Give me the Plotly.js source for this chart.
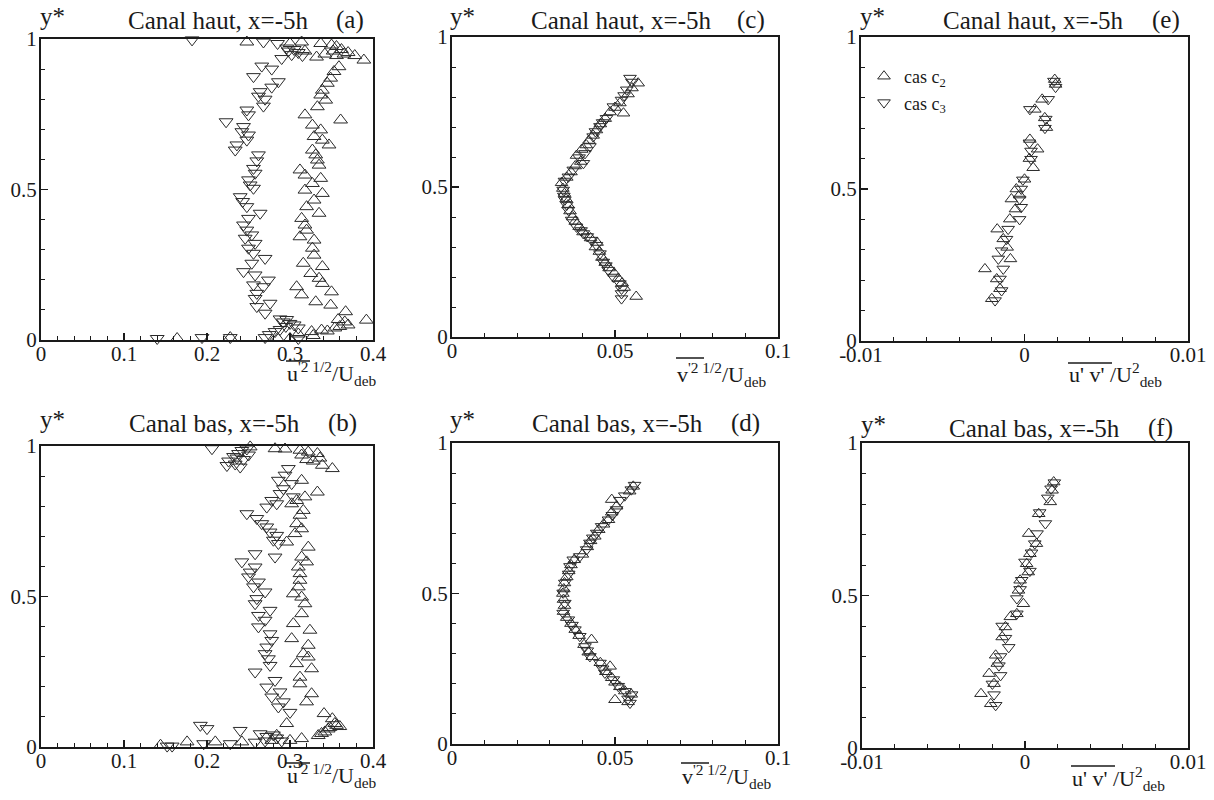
<!DOCTYPE html>
<html>
<head>
<meta charset="utf-8">
<script src="https://cdn.plot.ly/plotly-3.0.1.min.js"></script>
<style>html,body{margin:0;padding:0;background:#fff;}#chart{width:1214px;height:800px;}</style>
</head>
<body>
<div id="chart"></div>
<script>
// ---------------- DATA ----------------
// Each series: [x, y] pairs.  c2 = upward triangles, c3 = downward triangles.
var seriesNames = ['cas c<sub>2</sub>', 'cas c<sub>3</sub>'];

// (a) Canal haut, u'^2 1/2 / U_deb
var panelA_c2 = [[0.248,0.99],[0.314,0.99],[0.337,0.985],[0.35,0.98],[0.356,0.975],[0.362,0.965],[0.37,0.955],[0.378,0.945],[0.389,0.93],[0.332,0.94],[0.342,0.95],[0.352,0.96],[0.356,0.945],[0.365,0.95],[0.30,0.985],[0.318,0.96],
[0.359,0.908],[0.353,0.892],[0.349,0.87],[0.345,0.853],[0.339,0.83],[0.337,0.814],[0.343,0.797],[0.333,0.775],[0.318,0.748],[0.361,0.731],[0.327,0.714],[0.337,0.698],[0.329,0.676],[0.339,0.664],[0.347,0.648],[0.327,0.631],[0.331,0.615],[0.333,0.598],[0.335,0.581],[0.312,0.565],[0.318,0.548],[0.337,0.537],[0.327,0.52],[0.318,0.498],[0.339,0.487],[0.329,0.465],[0.32,0.443],[0.335,0.421],[0.314,0.404],[0.318,0.382],[0.32,0.365],[0.312,0.343],[0.329,0.332],[0.327,0.305],[0.329,0.282],[0.316,0.255],[0.339,0.244],[0.325,0.221],[0.335,0.205],[0.339,0.188],[0.308,0.177],[0.314,0.15],[0.35,0.16],[0.331,0.127],[0.349,0.116],[0.367,0.094],
[0.358,0.068],[0.366,0.06],[0.37,0.05],[0.36,0.045],[0.354,0.04],[0.392,0.066],[0.338,0.033],[0.326,0.028],[0.31,0.02],[0.328,0.015],[0.345,0.03],
[0.164,0.005],[0.228,0.008],[0.285,0.005],[0.3,0.005]];
var panelA_c3 = [[0.182,0.997],[0.268,0.99],[0.285,0.985],[0.296,0.97],[0.305,0.965],[0.31,0.955],[0.302,0.948],[0.315,0.945],[0.29,0.935],[0.298,0.96],
[0.266,0.91],[0.278,0.90],[0.256,0.875],[0.286,0.858],[0.278,0.84],[0.264,0.825],[0.262,0.81],[0.27,0.80],[0.268,0.777],[0.248,0.764],[0.25,0.748],[0.223,0.725],[0.244,0.709],[0.242,0.692],[0.25,0.681],[0.248,0.664],[0.236,0.648],[0.234,0.631],[0.262,0.615],[0.26,0.595],[0.256,0.570],[0.258,0.554],[0.25,0.532],[0.252,0.515],[0.256,0.504],[0.24,0.476],[0.243,0.46],[0.248,0.443],[0.264,0.421],[0.25,0.404],[0.244,0.382],[0.248,0.365],[0.254,0.349],[0.246,0.338],[0.258,0.321],[0.25,0.305],[0.256,0.288],[0.27,0.271],[0.254,0.255],[0.244,0.227],[0.258,0.216],[0.274,0.199],[0.256,0.183],[0.268,0.177],[0.26,0.155],[0.258,0.138],[0.276,0.122],[0.26,0.111],[0.27,0.089],
[0.288,0.07],[0.296,0.068],[0.3,0.055],[0.295,0.045],[0.305,0.05],[0.288,0.035],[0.282,0.028],[0.275,0.018],[0.292,0.06],[0.31,0.04],
[0.14,0.005],[0.194,0.008],[0.228,0.008],[0.27,0.008],[0.31,0.005]];

// (b) Canal bas, u'^2 1/2 / U_deb
var panelB_c2 = [[0.252,0.997],[0.282,0.991],[0.294,0.99],[0.312,0.986],[0.322,0.98],[0.333,0.975],[0.32,0.955],[0.328,0.95],[0.339,0.936],[0.351,0.925],[0.336,0.96],[0.314,0.97],
[0.314,0.886],[0.333,0.847],[0.318,0.831],[0.308,0.819],[0.302,0.808],[0.316,0.786],[0.312,0.77],[0.308,0.742],[0.314,0.725],[0.306,0.709],[0.296,0.681],[0.322,0.664],[0.314,0.631],[0.32,0.615],[0.31,0.598],[0.312,0.576],[0.312,0.554],[0.31,0.532],[0.304,0.509],[0.314,0.498],[0.318,0.476],[0.314,0.443],[0.304,0.41],[0.324,0.388],[0.302,0.36],[0.322,0.338],[0.316,0.31],[0.322,0.299],[0.308,0.277],[0.326,0.26],[0.312,0.232],[0.312,0.21],[0.326,0.177],[0.32,0.15],[0.341,0.111],[0.351,0.094],
[0.346,0.06],[0.338,0.045],[0.354,0.078],[0.356,0.072],[0.36,0.068],[0.348,0.065],[0.342,0.05],[0.334,0.038],[0.296,0.078],[0.284,0.039],[0.278,0.022],
[0.144,0.006],[0.176,0.017],[0.21,0.017],[0.242,0.017],[0.3,0.022],[0.314,0.028]];
var panelB_c3 = [[0.206,0.991],[0.226,0.95],[0.232,0.965],[0.238,0.975],[0.242,0.985],[0.248,0.99],[0.234,0.94],[0.24,0.93],[0.224,0.935],[0.244,0.955],[0.25,0.97],[0.236,0.96],
[0.298,0.925],[0.294,0.903],[0.286,0.886],[0.302,0.875],[0.292,0.858],[0.288,0.842],[0.304,0.831],[0.278,0.819],[0.284,0.808],[0.272,0.797],[0.248,0.775],[0.26,0.759],[0.266,0.742],[0.272,0.731],[0.276,0.714],[0.284,0.703],[0.28,0.687],[0.286,0.676],[0.258,0.642],[0.282,0.631],[0.242,0.615],[0.258,0.598],[0.252,0.581],[0.25,0.565],[0.262,0.548],[0.256,0.532],[0.27,0.515],[0.26,0.493],[0.258,0.476],[0.276,0.454],[0.262,0.437],[0.27,0.421],[0.262,0.399],[0.276,0.376],[0.278,0.354],[0.272,0.332],[0.27,0.31],[0.274,0.293],[0.276,0.271],[0.258,0.249],[0.282,0.221],[0.272,0.199],[0.288,0.183],[0.278,0.166],[0.292,0.15],[0.286,0.133],[0.30,0.115],
[0.192,0.072],[0.2,0.061],[0.24,0.055],[0.264,0.044],[0.272,0.035],[0.28,0.04],[0.284,0.03],[0.27,0.02],
[0.152,0.003],[0.158,0.003],[0.196,0.011],[0.228,0.011],[0.258,0.016],[0.29,0.02]];

// (c) Canal haut, v'^2 1/2 / U_deb
var panelC_c2 = [[0.0571,0.846],[0.0552,0.83],[0.0540,0.81],[0.0526,0.746],[0.0515,0.78],[0.0500,0.765],[0.0485,0.75],[0.0470,0.728],[0.0455,0.71],[0.0443,0.69],[0.0433,0.672],[0.0420,0.655],[0.0412,0.64],[0.0398,0.625],[0.0382,0.605],[0.0395,0.585],[0.0378,0.57],[0.0365,0.55],[0.0352,0.532],[0.0336,0.514],[0.0340,0.495],[0.0345,0.478],[0.0350,0.46],[0.0356,0.44],[0.0362,0.42],[0.0370,0.40],[0.0378,0.385],[0.0390,0.368],[0.0402,0.35],[0.0425,0.33],[0.0445,0.315],[0.0440,0.30],[0.0452,0.285],[0.0460,0.265],[0.0470,0.248],[0.0482,0.23],[0.0498,0.212],[0.0510,0.195],[0.0522,0.18],[0.0528,0.165],[0.0565,0.135]];
var panelC_c3 = [[0.0546,0.863],[0.0552,0.85],[0.0536,0.824],[0.0528,0.805],[0.0520,0.79],[0.0495,0.768],[0.0474,0.729],[0.0462,0.715],[0.0454,0.702],[0.0440,0.685],[0.0433,0.668],[0.0423,0.635],[0.0408,0.612],[0.0390,0.598],[0.0403,0.579],[0.0372,0.557],[0.0357,0.534],[0.0345,0.52],[0.0341,0.49],[0.0343,0.47],[0.0346,0.457],[0.0352,0.44],[0.0357,0.423],[0.0367,0.39],[0.0382,0.367],[0.0396,0.355],[0.0403,0.345],[0.0415,0.335],[0.0428,0.323],[0.0443,0.306],[0.0454,0.278],[0.0464,0.25],[0.0472,0.238],[0.0479,0.223],[0.0495,0.2],[0.0515,0.178],[0.0520,0.16],[0.0520,0.145],[0.0520,0.128]];

// (d) Canal bas, v'^2 1/2 / U_deb
var panelD_c2 = [[0.0556,0.856],[0.0545,0.84],[0.0490,0.812],[0.0505,0.79],[0.0490,0.77],[0.0480,0.745],[0.0465,0.73],[0.0450,0.712],[0.0438,0.69],[0.0425,0.675],[0.0415,0.655],[0.0400,0.63],[0.0375,0.612],[0.0365,0.595],[0.0358,0.575],[0.0352,0.555],[0.0345,0.535],[0.0343,0.515],[0.0340,0.50],[0.0342,0.48],[0.0345,0.46],[0.0342,0.44],[0.0352,0.42],[0.0365,0.40],[0.0378,0.38],[0.0390,0.36],[0.0428,0.347],[0.0405,0.33],[0.0418,0.305],[0.0430,0.29],[0.0455,0.27],[0.0485,0.258],[0.0472,0.24],[0.0490,0.22],[0.0500,0.205],[0.0515,0.19],[0.0530,0.176],[0.0550,0.165],[0.0500,0.147],[0.0540,0.14]];
var panelD_c3 = [[0.0560,0.86],[0.0550,0.845],[0.0530,0.825],[0.0515,0.81],[0.0505,0.779],[0.0492,0.76],[0.0480,0.745],[0.0459,0.723],[0.0444,0.701],[0.0432,0.685],[0.0423,0.668],[0.0413,0.646],[0.0392,0.623],[0.0372,0.612],[0.0362,0.59],[0.0358,0.565],[0.0346,0.535],[0.0341,0.502],[0.0346,0.468],[0.0341,0.435],[0.0357,0.413],[0.0368,0.395],[0.0377,0.38],[0.0392,0.358],[0.0408,0.324],[0.0415,0.31],[0.0423,0.291],[0.0454,0.269],[0.0462,0.25],[0.0469,0.236],[0.0495,0.214],[0.0510,0.192],[0.0531,0.175],[0.0551,0.164],[0.0546,0.136],[0.0540,0.15]];

// (e) Canal haut, u'v' / U_deb^2
var panelE_c2 = [[0.00185,0.86],[0.0019,0.844],[0.00108,0.795],[0.00063,0.762],[0.00124,0.734],[0.00134,0.702],[0.00033,0.663],[0.0008,0.631],[0.0003,0.6],[0.00053,0.57],[0.0,0.532],[-0.0005,0.5],[-0.0003,0.48],[-0.0008,0.467],[-0.00055,0.434],[-0.0009,0.401],[-0.00167,0.368],[-0.0013,0.336],[-0.00106,0.308],[-0.00086,0.27],[-0.00242,0.237],[-0.0017,0.204],[-0.0015,0.172],[-0.002,0.139]];
var panelE_c3 = [[0.0018,0.855],[0.0019,0.835],[0.00145,0.795],[0.00033,0.762],[0.0013,0.73],[0.00125,0.7],[0.0003,0.652],[0.0004,0.625],[0.0004,0.598],[-0.0001,0.53],[-0.0002,0.5],[-0.0003,0.467],[-0.0002,0.44],[-0.0003,0.4],[-0.001,0.368],[-0.0011,0.335],[-0.0014,0.297],[-0.0016,0.27],[-0.0013,0.237],[-0.0015,0.204],[-0.0014,0.166],[-0.0018,0.133]];

// (f) Canal bas, u'v' / U_deb^2
var panelF_c2 = [[0.00176,0.872],[0.00166,0.845],[0.00155,0.807],[0.00084,0.768],[0.00023,0.703],[0.0007,0.67],[0.0003,0.637],[0.0001,0.604],[0.0002,0.577],[-0.0003,0.55],[-0.0004,0.517],[-0.0001,0.473],[-0.0005,0.44],[-0.0009,0.43],[-0.0012,0.397],[-0.0014,0.364],[-0.0018,0.304],[-0.0017,0.277],[-0.0022,0.244],[-0.0019,0.211],[-0.0027,0.178],[-0.0021,0.145]];
var panelF_c3 = [[0.0018,0.87],[0.0016,0.85],[0.0014,0.82],[0.0009,0.772],[0.00125,0.736],[0.00074,0.703],[0.0006,0.67],[0.0004,0.64],[0.0,0.61],[0.0003,0.58],[-0.0002,0.55],[-0.0003,0.52],[-0.0005,0.49],[-0.0005,0.44],[-0.0014,0.4],[-0.0012,0.36],[-0.001,0.33],[-0.0015,0.3],[-0.0016,0.27],[-0.0015,0.238],[-0.002,0.21],[-0.0019,0.175],[-0.0018,0.14]];

// Tick labels
var yTickVals = [0, 0.5, 1];
var yTickText = ['0', '0.5', '1'];
var uTickVals = [0, 0.1, 0.2, 0.3, 0.4];
var uTickText = ['0', '0.1', '0.2', '0.3', '0.4'];
var vTickVals = [0, 0.05, 0.1];
var vTickText = ['0', '0.05', '0.1'];
var uvTickVals = [-0.01, 0, 0.01];
var uvTickText = ['-0.01', '0', '0.01'];

// Texts
var panelTitles = ['Canal haut, x=-5h', 'Canal bas, x=-5h', 'Canal haut, x=-5h', 'Canal bas, x=-5h', 'Canal haut, x=-5h', 'Canal bas, x=-5h'];
var panelLetters = ['(a)', '(b)', '(c)', '(d)', '(e)', '(f)'];
var xTitles = ["u<sup>'2 1/2</sup>/U<sub>deb</sub>", "u<sup>'2 1/2</sup>/U<sub>deb</sub>",
               "v<sup>'2 1/2</sup>/U<sub>deb</sub>", "v<sup>'2 1/2</sup>/U<sub>deb</sub>",
               "u' v' /U<sup>2</sup><sub>deb</sub>", "u' v' /U<sup>2</sup><sub>deb</sub>"];
var yTitle = 'y*';

// ---------------- LAYOUT ----------------
var W = 1214, H = 800;
var FONT = 'Liberation Serif';
var INK = '#1a1a1a';
function px(x) { return x / W; }
function py(y) { return 1 - y / H; }

// plot boxes in pixels [left, right, top, bottom]
var boxes = [
  [41, 373, 39, 340],   // a
  [41, 373, 446, 747],  // b
  [452, 778, 37, 337],  // c
  [452, 778, 443, 744], // d
  [861, 1188, 37, 341], // e
  [862, 1188, 443, 748] // f
];
var xCfg = [
  {range: [0, 0.4], vals: uTickVals, text: uTickText, minor: 0.02, tick0: 0},
  {range: [0, 0.4], vals: uTickVals, text: uTickText, minor: 0.02, tick0: 0},
  {range: [0, 0.1], vals: vTickVals, text: vTickText, minor: 0.01, tick0: 0},
  {range: [0, 0.1], vals: vTickVals, text: vTickText, minor: 0.01, tick0: 0},
  {range: [-0.01, 0.01], vals: uvTickVals, text: uvTickText, minor: 0.002, tick0: -0.01},
  {range: [-0.01, 0.01], vals: uvTickVals, text: uvTickText, minor: 0.002, tick0: -0.01}
];
var panelData = [[panelA_c2, panelA_c3], [panelB_c2, panelB_c3], [panelC_c2, panelC_c3],
                 [panelD_c2, panelD_c3], [panelE_c2, panelE_c3], [panelF_c2, panelF_c3]];
var markerSizes = [12, 12, 11, 11, 11, 11];

var layout = {
  width: W, height: H,
  margin: {l: 0, r: 0, t: 0, b: 0},
  paper_bgcolor: '#ffffff', plot_bgcolor: '#ffffff',
  font: {family: FONT, color: INK, size: 20},
  showlegend: true,
  legend: {
    x: px(864), y: py(58), xanchor: 'left', yanchor: 'top',
    bgcolor: 'rgba(0,0,0,0)', borderwidth: 0,
    font: {family: FONT, size: 18, color: INK},
    itemwidth: 30, tracegroupgap: 0
  },
  annotations: [],
  shapes: []
};

var traces = [];
var symbols = ['triangle-up-open', 'triangle-down-open'];

for (var i = 0; i < 6; i++) {
  var k = i === 0 ? '' : String(i + 1);
  var b = boxes[i];
  var xc = xCfg[i];
  var axisBase = {
    showline: true, mirror: true, linecolor: INK, linewidth: 2,
    ticks: 'inside', ticklen: 7, tickwidth: 1.5, tickcolor: INK,
    showgrid: false, zeroline: false, fixedrange: true,
    tickfont: {family: FONT, size: 21, color: INK}
  };
  layout['xaxis' + k] = Object.assign({}, axisBase, {
    domain: [px(b[0]), px(b[1])], anchor: 'y' + k, range: xc.range,
    tickmode: 'array', tickvals: xc.vals, ticktext: xc.text, ticklabelstandoff: -6,
    minor: {tickmode: 'linear', tick0: xc.tick0, dtick: xc.minor, ticks: 'inside', ticklen: 4, tickwidth: 1, tickcolor: INK, showgrid: false}
  });
  layout['yaxis' + k] = Object.assign({}, axisBase, {
    domain: [py(b[3]), py(b[2])], anchor: 'x' + k, range: [0, 1],
    tickmode: 'array', tickvals: yTickVals, ticktext: yTickText, ticklabelstandoff: -2,
    minor: {tickmode: 'linear', tick0: 0, dtick: 0.1, ticks: 'inside', ticklen: 4, tickwidth: 1, tickcolor: INK, showgrid: false}
  });

  for (var s = 0; s < 2; s++) {
    var pts = panelData[i][s];
    traces.push({
      type: 'scatter', mode: 'markers',
      x: pts.map(function (p) { return p[0]; }),
      y: pts.map(function (p) { return p[1]; }),
      xaxis: 'x' + k, yaxis: 'y' + k,
      name: seriesNames[s],
      showlegend: i === 4,
      cliponaxis: false,
      marker: {symbol: symbols[s], size: markerSizes[i], color: '#2a2a2a', line: {width: 1, color: '#2a2a2a'}},
      hoverinfo: 'skip'
    });
  }

  // panel title and letter
  var titleCx = [218, 214, 621, 617, 1033, 1034][i];
  var letterCx = [350, 342, 751, 745, 1166, 1160][i];
  var titleCy = [20, 423, 20, 423, 20, 428][i];
  layout.annotations.push({text: panelTitles[i], x: px(titleCx), y: py(titleCy), xref: 'paper', yref: 'paper',
    xanchor: 'center', yanchor: 'middle', showarrow: false, font: {family: FONT, size: 25, color: INK}});
  layout.annotations.push({text: panelLetters[i], x: px(letterCx), y: py(titleCy), xref: 'paper', yref: 'paper',
    xanchor: 'center', yanchor: 'middle', showarrow: false, font: {family: FONT, size: 25, color: INK}});
  // y* label
  layout.annotations.push({text: yTitle, x: px(b[0] + 11), y: py(titleCy - 4), xref: 'paper', yref: 'paper',
    xanchor: 'center', yanchor: 'middle', showarrow: false, font: {family: FONT, size: 25, color: INK}});
  // x-axis title
  var xtLeft = [285, 285, 675, 680, 1067, 1070][i];
  var xtCy = [373, 775, 374, 776, 374, 778][i];
  layout.annotations.push({text: xTitles[i], x: px(xtLeft), y: py(xtCy), xref: 'paper', yref: 'paper',
    xanchor: 'left', yanchor: 'middle', showarrow: false, font: {family: FONT, size: 22, color: INK}});
  // overline above the averaged quantity
  var olW = [24, 24, 28, 28, 44, 44][i];
  var olY = [361, 763, 358, 763, 363, 766][i];
  layout.shapes.push({type: 'line', xref: 'paper', yref: 'paper',
    x0: px(xtLeft + 1), x1: px(xtLeft + 1 + olW), y0: py(olY), y1: py(olY),
    line: {color: INK, width: 1.5}});
}

Plotly.newPlot('chart', traces, layout, {displayModeBar: false, staticPlot: true});
</script>
</body>
</html>
